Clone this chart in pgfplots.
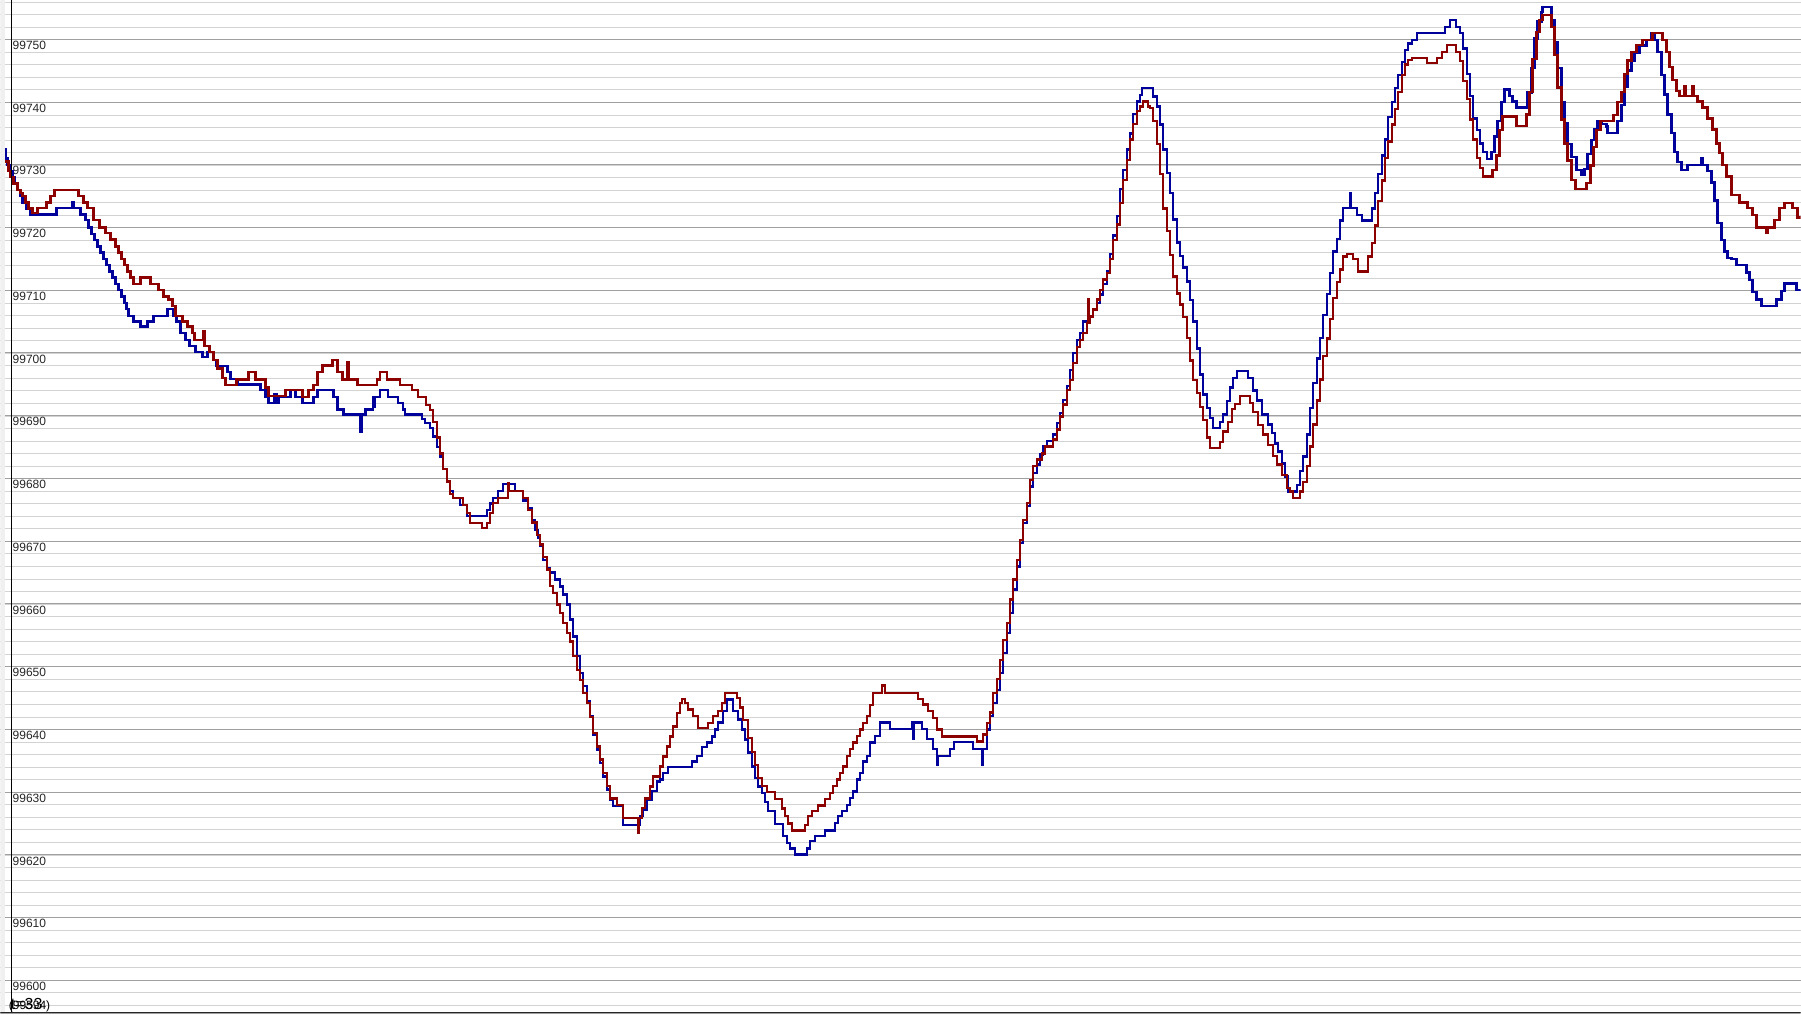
\documentclass[border=0pt]{standalone}
\usepackage{pgfplots}
\pgfplotsset{compat=1.18}
\usepackage{fontspec}
\setmainfont{Liberation Sans}
\definecolor{redline}{RGB}{140,0,0}
\definecolor{blueline}{RGB}{0,0,155}
\definecolor{minorgrid}{RGB}{211,211,211}
\definecolor{majorgrid}{RGB}{160,160,160}
\definecolor{sidegray}{RGB}{240,240,240}

\begin{document}
\begin{tikzpicture}
\begin{axis}[
  scale only axis,
  width=900.5pt, height=507.5pt,
  xmin=0, xmax=1801,
  ymin=99594.58, ymax=99756.26,
  axis line style={draw=none},
  tick style={draw=none},
  xtick=\empty,
  scaled y ticks=false,
  ytick={99600,99610,99620,99630,99640,99650,99660,99670,99680,99690,99700,99710,99720,99730,99740,99750},
  yticklabels={99600,99610,99620,99630,99640,99650,99660,99670,99680,99690,99700,99710,99720,99730,99740,99750},
  minor ytick={99596,99598,...,99756},
  ymajorgrids, yminorgrids,
  major grid style={majorgrid, line width=0.5pt},
  minor grid style={minorgrid, line width=0.5pt},
  yticklabel style={anchor=north west, inner sep=0pt, xshift=5.9pt, yshift=-0.7pt,
    font=\fontsize{6}{6}\selectfont, text=black!85},
  clip=true,
]

% blue series
\addplot[const plot, blueline, line width=1.2pt] coordinates {
(4,99732.5)(5,99731)(7,99730)(9,99729)(12,99728)(14,99727)(17,99726)(20,99725)(22,99724)(26,99723)
(30,99722.1)(56,99723.1)(72,99724)(73,99723.1)(80,99722.1)(85,99721.2)(88,99720)(91,99719)(94,99718)(97,99717)
(100,99716)(103,99715)(106,99714)(109,99713)(112,99712)(115,99711)(118,99710)(121,99709)(124,99708)(126,99707)
(128,99705.9)(133,99705)(140,99704.2)(147,99705)(153,99705.9)(167,99707)(173,99705.9)(176,99705)(180,99703.2)(185,99702.1)
(189,99701.1)(195,99700.2)(202,99699.4)(207,99700.2)(213,99698.9)(216,99697.9)(227,99697)(230,99695.9)(237,99695)(260,99694.1)
(265,99693)(268,99692)(274,99693.5)(276,99692)(278,99693)(290,99694.1)(295,99693)(302,99692)(313,99693)(317,99694.1)
(333,99693)(337,99691)(343,99690.2)(360,99687.5)(361,99690.2)(365,99691)(373,99693)(374,99691.5)(375,99693)(380,99694.1)
(388,99693)(398,99692)(403,99691)(405,99690.2)(422,99689.5)(425,99688.8)(430,99688)(433,99686.7)(437,99685)(440,99683.5)
(443,99681.5)(447,99679.5)(450,99678)(453,99676.9)(460,99675.8)(467,99674)(487,99675)(490,99676)(493,99676.9)(498,99678)
(503,99679.1)(515,99678)(523,99676.5)(528,99675.3)(532,99673.4)(535,99671.8)(538,99670.5)(540,99669.2)(543,99667)(547,99665.7)
(550,99665)(555,99663.9)(560,99662.8)(563,99661.5)(567,99659.9)(570,99657.5)(573,99654.8)(577,99651.7)(580,99649)(583,99646.9)
(587,99644.5)(590,99642.1)(593,99639.2)(597,99636.8)(600,99634.7)(603,99632.5)(607,99630.4)(610,99628.8)(613,99627.8)(623,99624.8)
(640,99626.2)(643,99627.2)(647,99628.8)(652,99630.2)(657,99631.7)(660,99632)(663,99633.1)(668,99634)(692,99634.9)(697,99635.8)
(702,99637.2)(707,99637.9)(712,99638.9)(715,99640)(718,99641.1)(723,99642.9)(727,99644.8)(733,99642.9)(738,99641.6)(742,99640)
(745,99638.4)(748,99636.3)(752,99634.1)(755,99632.3)(758,99630.9)(762,99629.9)(765,99628.4)(768,99627)(775,99624.9)(783,99623)
(787,99621.9)(790,99621)(795,99620.1)(807,99621)(810,99622.2)(815,99623)(825,99623.9)(835,99625.1)(838,99626.2)(842,99627)
(847,99628)(850,99629.1)(853,99630.1)(857,99632)(860,99633.1)(863,99634.9)(867,99635.8)(870,99637.9)(875,99639)(880,99641.1)
(890,99640.1)(912,99641.1)(913,99638.5)(914,99641.1)(922,99640.1)(927,99638.5)(933,99636.9)(937,99634.4)(938,99635.8)(950,99636.9)
(954,99638)(973,99636.9)(982,99634.4)(983,99636.9)(987,99640)(990,99642.1)(993,99644.2)(997,99646.3)(1000,99649)(1003,99652.2)
(1007,99655.4)(1010,99658.6)(1013,99662.3)(1017,99666)(1020,99669.7)(1023,99672.9)(1027,99675.6)(1030,99678.7)(1033,99680.9)(1037,99682.2)
(1040,99683.8)(1043,99685.1)(1047,99686)(1053,99687)(1057,99688.8)(1060,99690.4)(1063,99692.5)(1067,99694.7)(1070,99697.3)(1073,99700)
(1077,99702.1)(1080,99703.2)(1083,99705)(1090,99705.8)(1093,99706.9)(1097,99708)(1100,99709.3)(1103,99711)(1107,99713)(1110,99715.8)
(1113,99718.7)(1117,99721.8)(1120,99726.1)(1123,99729.2)(1127,99732.4)(1130,99735)(1133,99738.1)(1137,99740.1)(1140,99741.1)(1142,99742.2)
(1153,99740.9)(1157,99739.3)(1160,99736.4)(1163,99732.4)(1167,99728.7)(1170,99725.5)(1173,99721.3)(1177,99717.6)(1180,99715.5)(1183,99713.6)
(1187,99711.4)(1190,99708.4)(1193,99705)(1197,99700.7)(1200,99696.6)(1203,99693.4)(1207,99691.2)(1210,99689.6)(1213,99688)(1220,99689)
(1223,99690.2)(1227,99692.3)(1230,99694.5)(1233,99696)(1237,99697.1)(1248,99696)(1253,99694)(1257,99692.4)(1262,99690.2)(1268,99688.6)
(1272,99687.2)(1275,99685.6)(1278,99684.3)(1282,99682.4)(1285,99680.3)(1288,99677.9)(1297,99679)(1300,99681.2)(1303,99683.5)(1307,99687)
(1310,99691.2)(1313,99695.2)(1317,99699.1)(1320,99702.4)(1323,99706.1)(1327,99709.4)(1330,99712.7)(1333,99716.2)(1337,99718.2)(1340,99721.1)
(1343,99723.1)(1350,99725.5)(1351,99723.1)(1357,99722)(1362,99721.1)(1372,99723)(1375,99725.5)(1378,99728.5)(1382,99731.5)(1385,99734)
(1388,99737.6)(1392,99740)(1395,99742.2)(1398,99744.3)(1402,99746.4)(1405,99748.3)(1408,99749.3)(1412,99749.9)(1417,99751)(1445,99752)
(1450,99753.1)(1456,99752)(1460,99751)(1463,99748.5)(1467,99744.5)(1470,99741)(1473,99737.4)(1477,99735.5)(1480,99733.4)(1483,99732)
(1487,99730.9)(1492,99732)(1495,99734.5)(1498,99737)(1502,99740)(1505,99742)(1510,99741)(1513,99740.1)(1517,99739.1)(1528,99741.5)
(1532,99745.4)(1535,99750.1)(1538,99752.8)(1542,99754.3)(1543,99755.1)(1552,99753)(1555,99749.6)(1558,99745.4)(1562,99740)(1565,99736.6)
(1568,99733.3)(1572,99731.2)(1577,99729.2)(1582,99728.4)(1585,99729.3)(1588,99731.7)(1592,99733.9)(1595,99735.6)(1598,99737)(1602,99736.5)
(1607,99736.1)(1608,99735.1)(1618,99737)(1622,99739.5)(1625,99742.5)(1628,99745)(1632,99746.6)(1635,99747.8)(1640,99749)(1647,99749.9)
(1652,99751)(1655,99749.9)(1658,99748)(1662,99744.3)(1665,99741.2)(1668,99738)(1672,99735.1)(1675,99732)(1678,99730.4)(1682,99729.2)
(1688,99730)(1702,99731)(1703,99730)(1708,99729)(1712,99727.2)(1715,99724.3)(1718,99720.7)(1722,99718)(1725,99716.2)(1728,99715.1)
(1732,99715)(1737,99714)(1747,99712.8)(1750,99711.6)(1753,99709.7)(1757,99708.5)(1762,99707.5)(1777,99708.5)(1782,99709.9)(1785,99711.1)
(1797,99710)(1801,99710)
};

% red series
\addplot[const plot, redline, line width=1.2pt] coordinates {
(5,99730.5)(8,99729)(10,99728)(13,99727)(17,99726)(20,99725.5)(22,99725)(25,99724)(28,99723)(32,99722.3)
(37,99723.1)(46,99724)(50,99725)(54,99726)(78,99725)(83,99724)(87,99723.1)(93,99721.2)(99,99720)(105,99719.1)
(110,99718.1)(115,99717)(118,99716)(121,99715)(124,99714)(127,99713)(130,99712)(133,99711)(140,99712)(150,99711)
(158,99710)(163,99709)(168,99708.5)(172,99707.5)(175,99705.9)(182,99705)(187,99704.2)(192,99703.2)(194,99702.1)(203,99703.5)
(204,99701.1)(209,99700.2)(213,99698.9)(217,99697.5)(222,99696)(225,99694.9)(236,99695.8)(248,99697)(255,99695.8)(265,99694.5)
(268,99693.1)(285,99694.1)(302,99693)(308,99694.1)(313,99694.9)(317,99697)(322,99698)(332,99698.9)(337,99697)(342,99695.8)
(347,99698.6)(348,99695.8)(357,99694.9)(377,99695.8)(380,99697)(387,99695.8)(400,99694.9)(412,99694.1)(418,99693)(426,99691.7)
(430,99690.9)(433,99689)(437,99686.5)(440,99684)(443,99681.5)(447,99679.5)(450,99677.5)(453,99676.9)(463,99675.8)(467,99674.5)
(470,99672.9)(482,99672.1)(487,99672.9)(490,99674.5)(493,99676.1)(498,99676.9)(508,99679.2)(509,99678)(523,99676.9)(528,99675)
(532,99673)(537,99671)(540,99669.5)(543,99667.5)(547,99665.5)(550,99662.9)(553,99661.7)(557,99659.9)(560,99658.6)(563,99657)
(567,99655.4)(570,99654)(573,99651.7)(577,99649.5)(580,99647.9)(583,99645.8)(587,99644.2)(590,99642)(593,99639.4)(597,99637.3)
(600,99635.2)(603,99633.1)(607,99631)(610,99629)(617,99628)(623,99625.9)(638,99623.5)(639,99625.9)(642,99627.5)(645,99629)
(650,99630.9)(653,99632.5)(660,99634.1)(663,99635.7)(667,99637.3)(670,99638.9)(673,99640.5)(677,99642.6)(680,99644.2)(682,99644.9)
(685,99644.2)(688,99643.2)(693,99642.1)(698,99640.2)(708,99641)(713,99642.1)(718,99642.9)(722,99644.2)(725,99645.8)(737,99645)
(740,99643.5)(743,99641.5)(748,99638.6)(752,99636.4)(755,99634.3)(758,99632.3)(762,99631)(767,99630)(775,99628.9)(782,99627.4)
(785,99626.2)(788,99625)(792,99623.9)(805,99624.8)(808,99626.2)(812,99627)(818,99627.9)(825,99628.9)(830,99629.9)(833,99631)
(837,99632)(840,99633.1)(843,99634.1)(847,99635.8)(850,99636.9)(853,99637.9)(857,99639)(860,99640)(863,99641)(867,99642.1)
(870,99643.9)(873,99645.8)(882,99647)(885,99645.8)(918,99644.9)(923,99644)(928,99642.9)(933,99641.8)(937,99640)(942,99638.9)
(977,99638.1)(983,99639.2)(987,99641)(990,99642.7)(993,99645.8)(997,99648)(1000,99651.1)(1003,99654.3)(1007,99657)(1010,99660.7)
(1013,99663.9)(1017,99667)(1020,99670.2)(1023,99673.4)(1027,99676.1)(1030,99679.8)(1033,99682)(1037,99683)(1042,99684)(1045,99685.1)
(1053,99686.2)(1057,99687.8)(1060,99689.9)(1063,99691.8)(1067,99694.1)(1070,99695.7)(1073,99698.4)(1077,99701)(1080,99702.1)(1083,99703.2)
(1087,99704.8)(1088,99708.5)(1089,99704.8)(1090,99705.8)(1093,99706.9)(1097,99708.5)(1100,99710)(1103,99711.7)(1107,99712.7)(1110,99715)
(1113,99718)(1117,99720.5)(1120,99723.9)(1123,99727.6)(1127,99730.8)(1130,99734)(1133,99736.5)(1137,99738.6)(1140,99739.3)(1143,99740.1)
(1148,99739.3)(1150,99739)(1153,99737)(1157,99733.3)(1160,99728.5)(1163,99723)(1167,99719.4)(1170,99715.6)(1173,99712.2)(1177,99709.5)
(1180,99707.7)(1183,99705.7)(1187,99702.4)(1190,99698.8)(1193,99695.7)(1197,99693.6)(1200,99691.4)(1203,99689.3)(1207,99686.5)(1210,99684.9)
(1220,99685.8)(1223,99687.5)(1228,99689)(1232,99691.1)(1235,99691.9)(1240,99693.1)(1250,99692)(1253,99690.6)(1258,99688.5)(1263,99687)
(1268,99685.3)(1273,99683.6)(1277,99682.2)(1282,99680.6)(1287,99678.5)(1290,99677.9)(1293,99676.9)(1300,99677.9)(1303,99679.4)(1307,99682)
(1310,99685.1)(1313,99688.6)(1317,99692.4)(1320,99695.8)(1323,99699.5)(1327,99702.3)(1330,99705.4)(1333,99708.8)(1337,99711.3)(1340,99713.3)
(1343,99715.4)(1347,99715.8)(1353,99715)(1358,99713)(1368,99715.4)(1372,99717.5)(1375,99720.3)(1378,99724.2)(1382,99727.5)(1385,99731.1)
(1388,99733.7)(1392,99736.4)(1395,99738.9)(1398,99741.6)(1402,99744.3)(1405,99746)(1408,99746.7)(1412,99747)(1427,99746.2)(1437,99747)
(1442,99748)(1447,99749.1)(1456,99748)(1460,99746.5)(1463,99743.3)(1467,99740.5)(1470,99737.2)(1473,99734)(1477,99731.1)(1480,99729.5)
(1483,99728.1)(1493,99729.2)(1497,99731.5)(1500,99735.5)(1503,99737.7)(1517,99736.2)(1527,99738)(1530,99741.6)(1533,99746.9)(1537,99751.2)
(1540,99753.1)(1543,99753.9)(1552,99752)(1555,99747.5)(1558,99742.3)(1562,99737.2)(1565,99733.4)(1568,99730.7)(1572,99727.6)(1576,99726.1)
(1587,99727.1)(1591,99729.9)(1594,99732.8)(1597,99735.5)(1601,99737)(1614,99737.9)(1618,99740)(1622,99741.6)(1625,99744.5)(1628,99746.6)
(1632,99748)(1637,99749.1)(1643,99749.9)(1653,99751)(1663,99749.9)(1667,99748)(1670,99745.6)(1673,99743.5)(1677,99741.8)(1680,99741)
(1685,99742.5)(1686,99741)(1693,99742.5)(1694,99741)(1698,99740.1)(1703,99739.1)(1708,99737.4)(1713,99735.6)(1717,99733.4)(1720,99731.9)
(1723,99730)(1727,99728.1)(1732,99725.2)(1740,99724)(1748,99723.1)(1753,99722)(1757,99720)(1767,99719.1)(1768,99720)(1775,99721.2)
(1780,99723.1)(1785,99723.9)(1793,99723.1)(1798,99721.6)(1801,99721.6)
};

% frame pieces: light strip at left, axis line, bottom bar
\fill[sidegray] (axis cs:0,99594.58) rectangle (axis cs:5,99756.26);
\draw[black, line width=0.6pt] (axis cs:10.7,99594.95) -- (axis cs:10.7,99756.26);
\fill[gray!75] (axis cs:0,99594.58) rectangle (axis cs:1801,99594.95);
\draw[black!85, line width=0.6pt] (axis cs:0,99594.95) -- (axis cs:1801,99594.95);

\node[anchor=base west, inner sep=0pt, font=\fontsize{6}{6}\selectfont]
  at (axis cs:8,99595.3) {(99594)};
\node[anchor=base west, inner sep=0pt, font=\fontsize{8}{8}\selectfont]
  at (axis cs:10,99595.3) {t=33};
\end{axis}
\end{tikzpicture}
\end{document}
